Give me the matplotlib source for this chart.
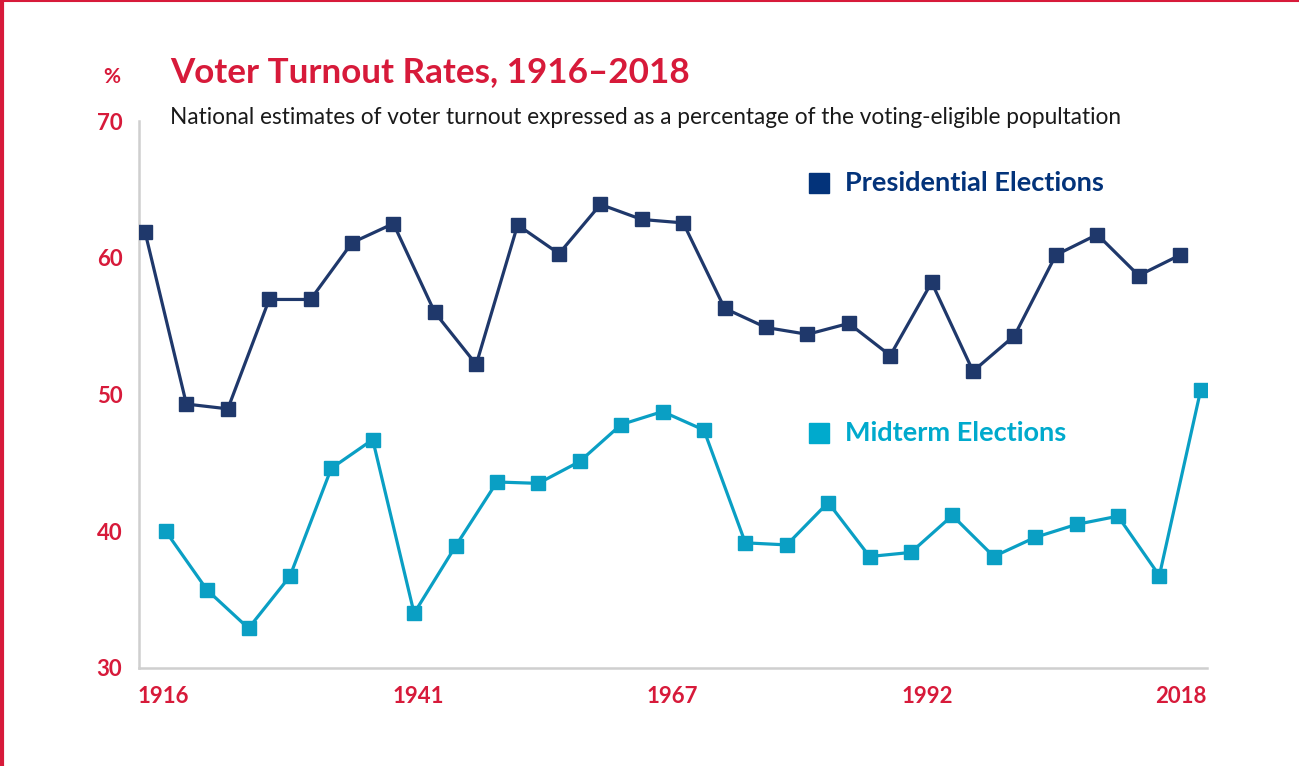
"""
Voter turnout rates, 1916-2018: presidential vs. midterm elections.
"""

import matplotlib as mpl
mpl.use("Agg")
import matplotlib.pyplot as plt
from matplotlib.lines import Line2D

RED = "#d71a3a"
NAVY = "#1f386b"
NAVY_LEGEND = "#03337a"
TEAL = "#0a9fc4"
TEAL_LEGEND = "#00aacd"
SPINE = "#cfcfcf"
INK = "#1a1a1a"

# data
pres_years = list(range(1916, 2017, 4))
pres_turnout = [61.9, 49.3, 48.95, 56.95, 56.95, 61.1, 62.5, 56.0, 52.2,
                62.4, 60.3, 63.9, 62.8, 62.55, 56.3, 54.9, 54.4, 55.2,
                52.85, 58.2, 51.7, 54.3, 60.2, 61.7, 58.7, 60.2]

mid_years = list(range(1918, 2019, 4))
mid_turnout = [40.0, 35.7, 32.9, 36.7, 44.6, 46.7, 34.0, 38.9, 43.6,
               43.5, 45.1, 47.8, 48.75, 47.4, 39.15, 39.0, 42.1, 38.15,
               38.45, 41.15, 38.15, 39.55, 40.5, 41.1, 36.75, 50.35]

x_labels = ["1916", "1941", "1967", "1992", "2018"]
y_ticks = [30, 40, 50, 60, 70]

plt.rcParams["font.family"] = ["Lato", "DejaVu Sans"]

fig = plt.figure(figsize=(12.99, 7.66), dpi=100)
ax = fig.add_axes([0.107, 0.128, 0.822, 0.714])

ax.plot(pres_years, pres_turnout, color=NAVY, linewidth=2.3, marker="s",
        markersize=9.5, zorder=3)
ax.plot(mid_years, mid_turnout, color=TEAL, linewidth=2.3, marker="s",
        markersize=9.5, zorder=3)

xmin, xmax = 1915.42, 2018.58
ax.set_xlim(xmin, xmax)
ax.set_ylim(30, 70)

# labels spread evenly along the axis, as in the original
fracs = [0.023 + i * 0.2383 for i in range(len(x_labels))]
ax.set_xticks([xmin + f * (xmax - xmin) for f in fracs])
ax.set_xticklabels(x_labels)
ax.set_yticks(y_ticks)

ax.tick_params(axis="both", length=0, colors=RED, labelsize=16)
ax.tick_params(axis="x", pad=13)
ax.tick_params(axis="y", pad=12)
for lab in ax.get_xticklabels() + ax.get_yticklabels():
    lab.set_fontweight("bold")

for side in ("top", "right"):
    ax.spines[side].set_visible(False)
for side in ("left", "bottom"):
    ax.spines[side].set_color(SPINE)
    ax.spines[side].set_linewidth(1.8)

# titles
fig.text(170 / 1299, 1 - 72 / 766, "Voter Turnout Rates, 1916\u20132018",
         color=RED, fontsize=25.2, fontweight="bold", va="center", ha="left")
fig.text(112 / 1299, 1 - 77 / 766, "%", color=RED, fontsize=15,
         fontweight="bold", va="center", ha="center")
fig.text(170 / 1299, 1 - 118 / 766,
         "National estimates of voter turnout expressed as a percentage "
         "of the voting-eligible popultation",
         color=INK, fontsize=16.3, va="center", ha="left")

# in-plot legend entries
for ypx, label, col in [(183, "Presidential Elections", NAVY_LEGEND),
                        (433, "Midterm Elections", TEAL_LEGEND)]:
    fig.add_artist(Line2D([819 / 1299], [1 - ypx / 766], marker="s",
                          markersize=14.5, color=col, linestyle="none",
                          transform=fig.transFigure))
    fig.text(845 / 1299, 1 - ypx / 766, label, color=col, fontsize=19.5,
             fontweight="bold", va="center", ha="left")

# red frame on left and top edges
fig.add_artist(Line2D([0.0015, 0.0015], [0, 1], color=RED, linewidth=3,
                      transform=fig.transFigure))
fig.add_artist(Line2D([0, 1], [0.999, 0.999], color=RED, linewidth=1.5,
                      transform=fig.transFigure))

fig.savefig("out.png", dpi=100, facecolor="white")
